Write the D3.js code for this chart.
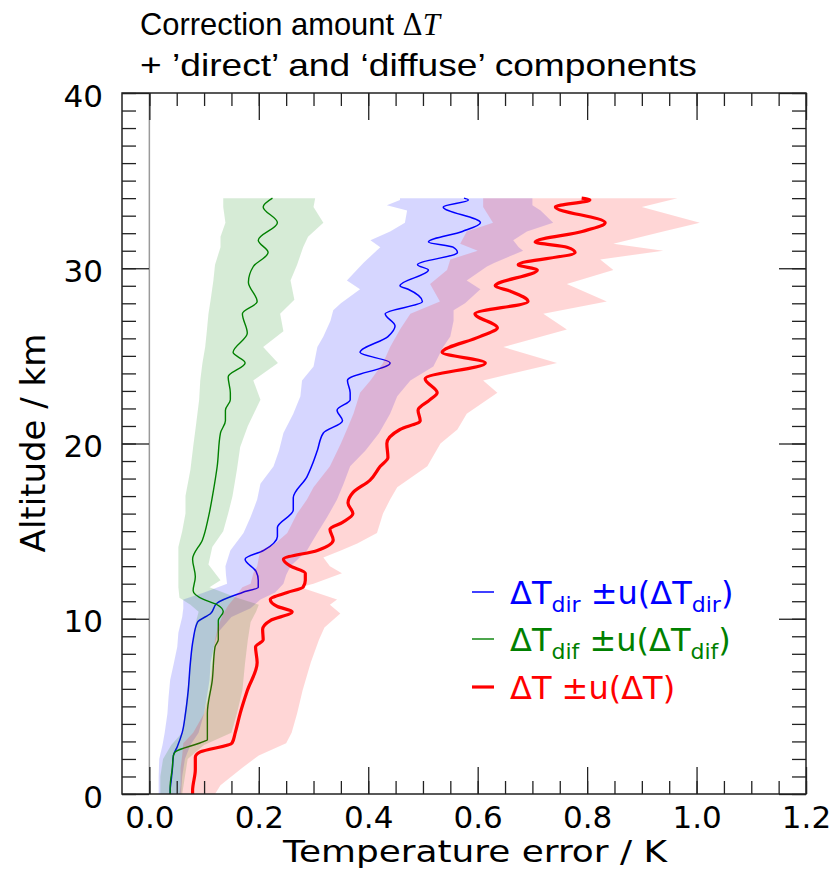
<!DOCTYPE html>
<html>
<head>
<meta charset="utf-8">
<script src="https://cdn.jsdelivr.net/npm/d3@7"></script>
<style>
  html, body { margin: 0; padding: 0; background: #fff; }
  svg { display: block; }
</style>
</head>
<body>
<svg id="chart" width="833" height="869"></svg>
<script>
// ---------------- DATA ----------------
// Altitude (km) / value (K) pairs for the mean profiles
const dirAlt = [0.0,0.2,0.8,1.4,2.2,2.7,3.5,4.6,5.9,7.5,8.8,9.8,10.3,10.9,11.5,11.8,12.2,12.7,13.4,13.9,14.7,15.2,16.2,16.9,18.1,18.9,19.6,20.6,21.3,21.9,22.5,22.9,23.6,24.6,25.2,26.1,26.7,27.4,28.1,28.8,29.0,29.9,30.2,30.9,31.2,31.5,32.1,32.6,33.5,33.9,34.0];
const dirVal = [0.038,0.038,0.040,0.042,0.044,0.051,0.060,0.066,0.071,0.075,0.080,0.088,0.112,0.124,0.170,0.199,0.199,0.195,0.175,0.209,0.234,0.234,0.263,0.263,0.288,0.299,0.307,0.318,0.353,0.343,0.367,0.367,0.362,0.440,0.385,0.436,0.449,0.431,0.499,0.473,0.458,0.510,0.490,0.563,0.555,0.510,0.572,0.605,0.537,0.583,0.575];

const difAlt = [0.0,0.4,1.5,2.2,2.4,3.0,3.1,4.6,6.5,8.4,8.8,9.9,10.4,10.8,11.1,11.6,12.4,13.4,14.5,15.8,17.3,18.7,20.6,21.3,21.9,22.5,22.9,23.8,24.6,25.2,26.3,27.4,28.1,29.2,30.1,30.9,31.6,32.6,33.5,34.0];
const difVal = [0.038,0.038,0.042,0.044,0.047,0.100,0.106,0.106,0.115,0.120,0.126,0.126,0.135,0.124,0.099,0.080,0.084,0.079,0.097,0.108,0.117,0.124,0.130,0.139,0.139,0.148,0.148,0.144,0.175,0.153,0.179,0.170,0.197,0.181,0.190,0.217,0.199,0.234,0.208,0.225];

const totAlt = [0.0,0.2,1.4,2.1,2.4,2.9,3.5,4.6,5.9,7.5,8.4,8.8,9.4,9.9,10.4,10.7,11.1,11.5,11.8,12.2,12.6,13.0,13.4,13.9,14.5,15.1,15.5,16.0,16.6,17.2,17.9,18.7,19.2,20.0,20.8,21.3,21.9,22.5,22.9,23.7,24.6,25.2,26.1,26.6,27.4,28.1,28.7,29.0,29.9,30.2,30.9,31.2,31.5,32.1,32.6,33.5,33.9,34.0];
const totVal = [0.079,0.079,0.084,0.084,0.093,0.151,0.157,0.166,0.179,0.197,0.194,0.208,0.207,0.221,0.261,0.234,0.221,0.252,0.281,0.285,0.285,0.258,0.245,0.307,0.336,0.330,0.353,0.372,0.363,0.372,0.403,0.422,0.436,0.434,0.458,0.495,0.491,0.513,0.526,0.504,0.614,0.535,0.604,0.636,0.595,0.692,0.659,0.632,0.709,0.674,0.778,0.763,0.705,0.791,0.833,0.742,0.805,0.790];

// Uncertainty bands: altitude, lower and upper edge (K)
const dirBandAlt = [0.0,1.0,2.0,2.8,3.5,4.6,5.5,6.5,7.5,8.4,9.2,10.1,10.6,11.1,11.5,12.0,12.5,13.0,13.9,14.9,15.8,16.8,17.7,18.7,19.6,20.6,21.7,22.7,23.6,24.4,25.5,26.1,27.0,27.6,28.0,28.8,29.3,30.1,30.3,31.0,31.2,31.6,32.1,32.6,33.3,33.6,33.9,34.0];
const dirLo = [0.017,0.017,0.018,0.024,0.028,0.033,0.035,0.038,0.045,0.051,0.053,0.060,0.062,0.062,0.100,0.142,0.140,0.139,0.148,0.172,0.185,0.197,0.203,0.227,0.237,0.245,0.263,0.276,0.279,0.300,0.307,0.318,0.331,0.336,0.350,0.385,0.361,0.385,0.391,0.415,0.422,0.404,0.440,0.467,0.471,0.434,0.458,0.458];
const dirHi = [0.058,0.060,0.065,0.075,0.090,0.100,0.105,0.110,0.112,0.118,0.125,0.150,0.185,0.203,0.230,0.245,0.250,0.258,0.288,0.307,0.325,0.343,0.355,0.367,0.395,0.420,0.440,0.453,0.477,0.519,0.537,0.550,0.556,0.556,0.577,0.605,0.580,0.617,0.630,0.683,0.675,0.665,0.690,0.738,0.715,0.700,0.700,0.700];

const difBandAlt = [0.0,1.0,2.0,2.8,3.5,4.6,5.9,7.5,8.8,9.8,10.4,10.8,11.2,11.8,12.2,13.1,14.1,15.0,16.0,17.0,18.5,19.8,21.0,22.5,23.6,24.6,25.5,26.4,27.4,28.2,29.3,30.2,31.2,31.8,32.6,33.5,34.0];
const difLo = [0.020,0.020,0.025,0.040,0.060,0.065,0.070,0.075,0.080,0.085,0.090,0.075,0.055,0.053,0.053,0.053,0.053,0.060,0.066,0.066,0.075,0.080,0.085,0.091,0.093,0.097,0.102,0.105,0.108,0.112,0.117,0.120,0.130,0.130,0.139,0.135,0.135];
const difHi = [0.060,0.065,0.070,0.100,0.150,0.160,0.170,0.175,0.180,0.185,0.195,0.200,0.160,0.110,0.130,0.108,0.115,0.135,0.144,0.152,0.160,0.166,0.180,0.203,0.190,0.235,0.208,0.245,0.239,0.265,0.258,0.270,0.281,0.290,0.318,0.300,0.303];

const totBandAlt = [0.0,0.5,1.5,2.2,2.9,3.5,4.6,5.9,7.5,8.8,9.5,10.3,10.8,11.1,11.8,12.0,12.6,13.0,13.5,13.9,14.3,14.9,16.0,16.8,17.5,18.7,20.0,20.8,21.7,22.9,23.6,24.6,25.5,26.5,27.4,28.1,29.1,29.9,30.5,31.0,31.4,32.1,32.6,33.5,34.0];
const totLo = [0.055,0.057,0.057,0.060,0.062,0.080,0.100,0.110,0.115,0.120,0.125,0.135,0.145,0.153,0.170,0.185,0.190,0.197,0.200,0.203,0.230,0.252,0.270,0.288,0.300,0.330,0.350,0.361,0.373,0.385,0.404,0.427,0.440,0.458,0.477,0.531,0.513,0.544,0.550,0.600,0.568,0.580,0.628,0.610,0.610];
const totHi = [0.120,0.130,0.170,0.200,0.250,0.260,0.270,0.280,0.295,0.310,0.320,0.349,0.330,0.343,0.276,0.300,0.352,0.330,0.318,0.350,0.380,0.416,0.427,0.440,0.453,0.508,0.532,0.563,0.580,0.636,0.610,0.745,0.647,0.763,0.720,0.836,0.763,0.848,0.824,0.939,0.848,0.939,1.006,0.900,0.965];

const xMajorTicks = [0.0, 0.2, 0.4, 0.6, 0.8, 1.0, 1.2];
const yMajorTicks = [0, 10, 20, 30, 40];
const xMinorTicks = d3.range(0, 1.2001, 0.05);
const yMinorTicks = d3.range(0, 40.001, 1);

const seriesColors = { dir: "#0000ff", dif: "#008000", tot: "#ff0000" };

// ---------------- LAYOUT ----------------
const svg = d3.select("#chart");
const L = 122, R = 806, T = 93, B = 794;
const x = d3.scaleLinear().domain([-0.05, 1.2]).range([L, R]);
const y = d3.scaleLinear().domain([0, 40]).range([B, T]);

svg.append("defs").append("clipPath").attr("id", "plotclip")
  .append("rect").attr("x", L).attr("y", T).attr("width", R - L).attr("height", B - T);

const plot = svg.append("g").attr("clip-path", "url(#plotclip)");

// zero line
plot.append("line")
  .attr("x1", x(0)).attr("x2", x(0)).attr("y1", T).attr("y2", B)
  .attr("stroke", "#9a9a9a").attr("stroke-width", 1.5);

function zipBand(a, lo, hi) { return a.map((v, i) => ({ a: v, lo: lo[i], hi: hi[i] })); }
function zipLine(a, v) { return a.map((h, i) => ({ a: h, v: v[i] })); }

const area = d3.area().y(d => y(d.a)).x0(d => x(d.lo)).x1(d => x(d.hi)).curve(d3.curveLinear);
const line = d3.line().y(d => y(d.a)).x(d => x(d.v)).curve(d3.curveMonotoneY);

const series = [
  { key: "dir", band: zipBand(dirBandAlt, dirLo, dirHi), line: zipLine(dirAlt, dirVal), width: 1.5 },
  { key: "dif", band: zipBand(difBandAlt, difLo, difHi), line: zipLine(difAlt, difVal), width: 1.4 },
  { key: "tot", band: zipBand(totBandAlt, totLo, totHi), line: zipLine(totAlt, totVal), width: 3.2 }
];

series.forEach(s => {
  plot.append("path").datum(s.band).attr("d", area)
    .attr("fill", seriesColors[s.key]).attr("fill-opacity", 0.16).attr("stroke", "none");
  plot.append("path").datum(s.line).attr("d", line)
    .attr("fill", "none").attr("stroke", seriesColors[s.key]).attr("stroke-width", s.width)
    .attr("stroke-linejoin", "round");
});

// ---------------- AXES ----------------
const tickFont = "'DejaVu Sans', sans-serif";
function styleAxis(g) {
  g.select(".domain").remove();
  g.selectAll(".tick line").attr("stroke", "#222").attr("stroke-width", 1.3);
  g.selectAll(".tick text").attr("font-family", tickFont).attr("font-size", 31).attr("fill", "#000");
}

svg.append("g").attr("transform", `translate(0,${B})`)
  .call(d3.axisBottom(x).tickValues(xMinorTicks).tickFormat("").tickSizeInner(-13).tickSizeOuter(0)).call(styleAxis);
svg.append("g").attr("transform", `translate(0,${B})`)
  .call(d3.axisBottom(x).tickValues(xMajorTicks).tickFormat(d3.format(".1f")).tickSizeInner(-27).tickSizeOuter(0).tickPadding(12)).call(styleAxis);
svg.append("g").attr("transform", `translate(0,${T})`)
  .call(d3.axisTop(x).tickValues(xMinorTicks).tickFormat("").tickSizeInner(-13).tickSizeOuter(0)).call(styleAxis);
svg.append("g").attr("transform", `translate(0,${T})`)
  .call(d3.axisTop(x).tickValues(xMajorTicks).tickFormat("").tickSizeInner(-27).tickSizeOuter(0)).call(styleAxis);

const yAxisG = svg.append("g").attr("transform", `translate(${L},0)`);
svg.append("g").attr("transform", `translate(${L},0)`)
  .call(d3.axisLeft(y).tickValues(yMinorTicks).tickFormat("").tickSizeInner(-14).tickSizeOuter(0)).call(styleAxis);
yAxisG.call(d3.axisLeft(y).tickValues(yMajorTicks).tickFormat(d3.format("d")).tickSizeInner(-27).tickSizeOuter(0).tickPadding(19)).call(styleAxis);
yAxisG.selectAll(".tick text").attr("dy", "0.42em");
svg.append("g").attr("transform", `translate(${R},0)`)
  .call(d3.axisRight(y).tickValues(yMinorTicks).tickFormat("").tickSizeInner(-14).tickSizeOuter(0)).call(styleAxis);
svg.append("g").attr("transform", `translate(${R},0)`)
  .call(d3.axisRight(y).tickValues(yMajorTicks).tickFormat("").tickSizeInner(-27).tickSizeOuter(0)).call(styleAxis);

// frame
svg.append("rect").attr("x", L).attr("y", T).attr("width", R - L).attr("height", B - T)
  .attr("fill", "none").attr("stroke", "#222").attr("stroke-width", 1.5);

// axis labels
function fitWidth(sel, target) {
  const w = sel.node().getComputedTextLength();
  return target / w;
}
const xl = svg.append("text").attr("font-family", tickFont).attr("font-size", 30)
  .attr("text-anchor", "middle").attr("fill", "#000").text("Temperature error / K");
xl.attr("transform", `translate(475,862) scale(${fitWidth(xl, 384)},1)`);

svg.append("text").attr("font-family", tickFont).attr("font-size", 34)
  .attr("text-anchor", "middle").attr("fill", "#000")
  .attr("transform", `translate(45,443) rotate(-90)`).text("Altitude / km");

// title
const titleFont = "'Liberation Sans', Arial, sans-serif";
const t1 = svg.append("text").attr("x", 0).attr("y", 0).attr("font-family", titleFont)
  .attr("font-size", 32).attr("fill", "#000");
t1.append("tspan").text("Correction amount ");
t1.append("tspan").attr("font-family", "'DejaVu Serif', serif").attr("font-size", 29).text("Δ");
t1.append("tspan").attr("font-family", "'Liberation Serif', serif").attr("font-style", "italic").text("T");
t1.attr("transform", `translate(140,35) scale(${fitWidth(t1, 300)},1)`);
const t2 = svg.append("text").attr("x", 0).attr("y", 0).attr("font-family", titleFont)
  .attr("font-size", 32).attr("fill", "#000").text("+ \u2019direct\u2019 and \u2018diffuse\u2019 components");
t2.attr("transform", `translate(140,76) scale(${fitWidth(t2, 557)},1)`);

// legend
const legendRows = [
  { key: "dir", sub: "dir", y: 604, w: 1.5 },
  { key: "dif", sub: "dif", y: 651, w: 1.4 },
  { key: "tot", sub: null, y: 699, w: 3.2 }
];
const lg = svg.append("g");
legendRows.forEach(r => {
  lg.append("line").attr("x1", 472).attr("x2", 494).attr("y1", r.y - 12).attr("y2", r.y - 12)
    .attr("stroke", seriesColors[r.key]).attr("stroke-width", r.w);
  const t = lg.append("text").attr("x", 510).attr("y", r.y).attr("font-family", tickFont)
    .attr("font-size", 32).attr("fill", seriesColors[r.key]);
  if (r.sub) {
    t.append("tspan").text("ΔT");
    t.append("tspan").attr("font-size", 22).attr("dy", 8).text(r.sub);
    t.append("tspan").attr("dy", -8).text(" ±u(ΔT");
    t.append("tspan").attr("font-size", 22).attr("dy", 8).text(r.sub);
    t.append("tspan").attr("dy", -8).text(")");
  } else {
    t.text("ΔT ±u(ΔT)");
  }
});
</script>
</body>
</html>
